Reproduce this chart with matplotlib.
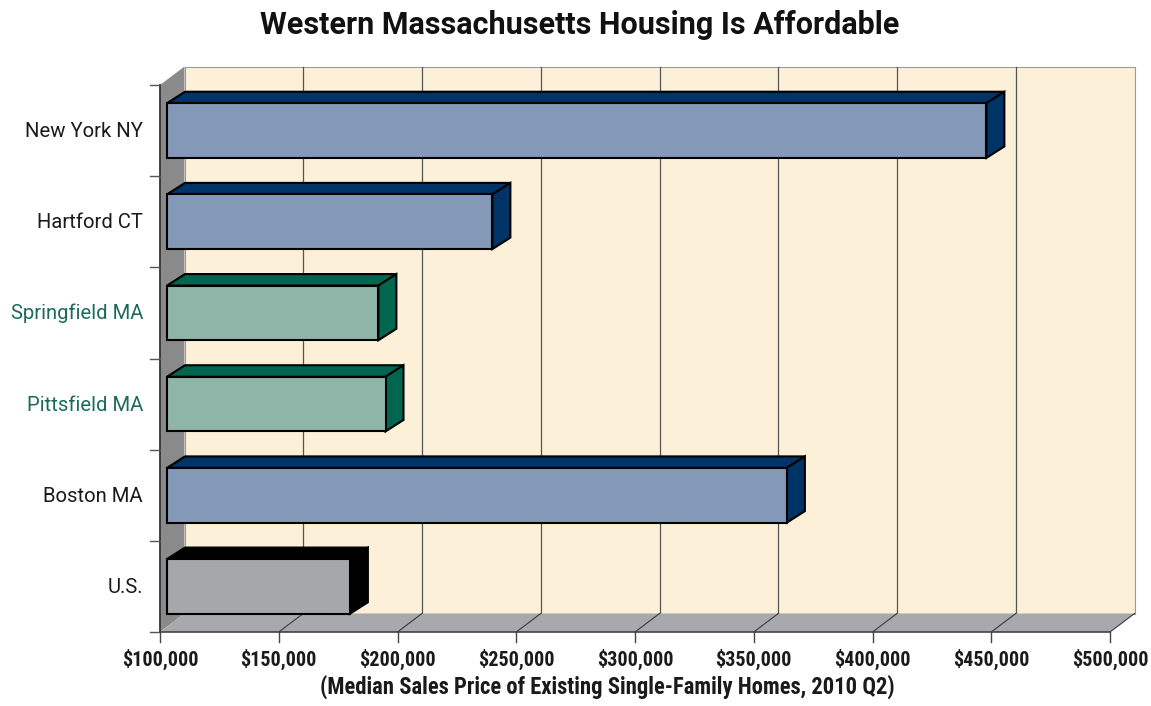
import matplotlib
matplotlib.use('Agg')
import matplotlib.pyplot as plt
from matplotlib import font_manager
from matplotlib.patches import Polygon, Rectangle
from matplotlib.transforms import ScaledTranslation

# ---------------- data ----------------
categories = ['U.S.', 'Boston MA', 'Pittsfield MA', 'Springfield MA', 'Hartford CT', 'New York NY']
values = [177000, 361000, 192000, 189000, 237000, 445000]
groups = ['us', 'other', 'wma', 'wma', 'other', 'other']
x_ticks = [100000, 150000, 200000, 250000, 300000, 350000, 400000, 450000, 500000]
x_tick_labels = ['$100,000', '$150,000', '$200,000', '$250,000', '$300,000',
                 '$350,000', '$400,000', '$450,000', '$500,000']
title = 'Western Massachusetts Housing Is Affordable'
x_title = '(Median Sales Price of Existing Single-Family Homes, 2010 Q2)'

# ---------------- styles ----------------
front_col = {'us': '#a6a7aa', 'other': '#8498b8', 'wma': '#8fb5a9'}
dark_col = {'us': '#000000', 'other': '#003366', 'wma': '#00664f'}
label_col = {'us': '#1a1a1a', 'other': '#1a1a1a', 'wma': '#1b6b55'}

names = {f.name for f in font_manager.fontManager.ttflist}
def pick(cands):
    for c in cands:
        if c in names:
            return c
    return 'DejaVu Sans'
COND = pick(['Roboto Condensed', 'Liberation Sans Narrow', 'DejaVu Sans Condensed',
             'Roboto', 'Liberation Sans'])
NORM = pick(['Roboto', 'Liberation Sans', 'DejaVu Sans'])
plt.rcParams['font.family'] = [COND, 'DejaVu Sans']

W, H = 1151, 706
fig = plt.figure(figsize=(W / 100, H / 100), dpi=100)
fig.patch.set_facecolor('white')

L, R, T, B = 160, 1110, 85, 632
ax = fig.add_axes([L / W, 1 - B / H, (R - L) / W, (B - T) / H])
XMIN, XMAX = x_ticks[0], x_ticks[-1]
n = len(categories)
ax.set_xlim(XMIN, XMAX)
ax.set_ylim(-0.5, n - 0.5)
ax.axis('off')

sx = (XMAX - XMIN) / (R - L)   # data units per pixel (x)
sy = n / (B - T)               # data units per pixel (y)

WDX, WDY = 24.5 * sx, 18.5 * sy   # wall depth
FDX = 7 * sx                      # bar front-face offset
BDX, BDY = 18 * sx, 11.5 * sy     # bar depth
BH = 0.6

# back wall
ax.add_patch(Rectangle((XMIN + WDX, -0.5 + WDY), XMAX - XMIN, n,
                       facecolor='#fcf1d8', edgecolor='#9a9a9a', lw=0.8,
                       zorder=1, clip_on=False))
for t in x_ticks[1:-1]:
    ax.plot([t + WDX, t + WDX], [-0.5 + WDY, n - 0.5 + WDY], color='#555555',
            lw=0.9, zorder=2, clip_on=False)

# left side wall
ax.add_patch(Polygon([(XMIN, -0.5), (XMIN, n - 0.5), (XMIN + WDX, n - 0.5 + WDY),
                      (XMIN + WDX, -0.5 + WDY)], closed=True,
                     facecolor='#8a8a8a', edgecolor='none', zorder=3, clip_on=False))
# floor
ax.add_patch(Polygon([(XMIN, -0.5), (XMAX, -0.5), (XMAX + WDX, -0.5 + WDY),
                      (XMIN + WDX, -0.5 + WDY)], closed=True,
                     facecolor='#a8a9ac', edgecolor='none', zorder=4, clip_on=False))
for t in x_ticks[1:]:
    ax.plot([t, t + WDX], [-0.5, -0.5 + WDY], color='#3a3a3a', lw=0.8,
            zorder=5, clip_on=False)

# axis lines
ax.plot([XMIN, XMIN], [-0.5, n - 0.5], color='#333333', lw=1.3, zorder=6, clip_on=False)
ax.plot([XMIN, XMAX], [-0.5, -0.5], color='#444444', lw=1.2, zorder=6, clip_on=False)
for i in range(n + 1):
    yy = i - 0.5
    ax.plot([XMIN - 10 * sx, XMIN], [yy, yy], color='#555555', lw=1.0,
            zorder=6, clip_on=False)
for t in x_ticks:
    ax.plot([t, t], [-0.5, -0.5 - 10 * sy], color='#444444', lw=1.0,
            zorder=6, clip_on=False)

# bars
ypos = list(range(n))
ax.barh(ypos, [v - XMIN for v in values], left=XMIN + FDX, height=BH,
        color=[front_col[g] for g in groups], edgecolor='black', linewidth=1.5,
        zorder=9, clip_on=False)
for y, v, g in zip(ypos, values, groups):
    x0, x1 = XMIN + FDX, v + FDX
    top, bot = y + BH / 2, y - BH / 2
    ax.add_patch(Polygon([(x0, top), (x1, top), (x1 + BDX, top + BDY), (x0 + BDX, top + BDY)],
                         closed=True, facecolor=dark_col[g], edgecolor='black',
                         lw=1.5, zorder=8, clip_on=False))
    ax.add_patch(Polygon([(x1, bot), (x1, top), (x1 + BDX, top + BDY), (x1 + BDX, bot + BDY)],
                         closed=True, facecolor=dark_col[g], edgecolor='black',
                         lw=1.5, zorder=8, clip_on=False))

# category labels
lab_tr = ax.transData + ScaledTranslation(-17 / 100, -6.5 / 100, fig.dpi_scale_trans)
for y, c, g in zip(ypos, categories, groups):
    ax.text(XMIN, y, c, transform=lab_tr, ha='right', va='baseline',
            fontsize=14.6, color=label_col[g], family=[NORM, 'DejaVu Sans'], clip_on=False)

# x tick labels
tick_tr = ax.transData + ScaledTranslation(0, -(666 - 632) / 100, fig.dpi_scale_trans)
for t, lab in zip(x_ticks, x_tick_labels):
    ax.text(t, -0.5, lab, transform=tick_tr, ha='center', va='baseline',
            fontsize=14.5, fontweight='bold', color='#1a1a1a', clip_on=False)

fig.text(607 / W, 1 - 694 / H, x_title, ha='center', va='baseline',
         fontsize=16.3, fontweight='bold', color='#1a1a1a')
fig.text(580 / W, 1 - 34 / H, title, ha='center', va='baseline',
         fontsize=22, fontweight='bold', color='#111111', family=[NORM, 'DejaVu Sans'])

fig.savefig('out.png', dpi=100, facecolor='white')
